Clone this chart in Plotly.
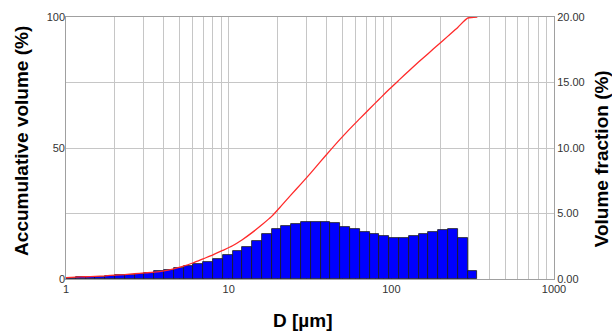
import plotly.graph_objects as go

# Bin edges (µm) of the size classes
bin_edges = [1.000, 1.149, 1.320, 1.516, 1.741, 2.000, 2.297, 2.639, 3.031, 3.482,
             4.000, 4.595, 5.278, 6.063, 6.964, 8.000, 9.190, 10.56, 12.13, 13.93,
             16.00, 18.38, 21.11, 24.25, 27.86, 32.00, 36.76, 42.22, 48.50, 55.72,
             64.00, 73.52, 84.45, 97.01, 111.4, 128.0, 147.0, 168.9, 194.0, 222.9,
             256.0, 294.1, 337.8]

# Volume fraction (%) per class
vol_fraction = [0.10, 0.13, 0.15, 0.18, 0.23, 0.28, 0.33, 0.41, 0.48, 0.59,
                0.69, 0.81, 0.97, 1.14, 1.30, 1.53, 1.81, 2.12, 2.47, 2.93,
                3.40, 3.80, 4.07, 4.23, 4.35, 4.38, 4.38, 4.24, 4.00, 3.84,
                3.56, 3.41, 3.26, 3.16, 3.16, 3.26, 3.44, 3.57, 3.75, 3.79,
                3.15, 0.58]

# Accumulative volume (%) at each bin edge
cum_volume = [0.5, 0.7, 0.85, 1.0, 1.2, 1.5, 1.7, 2.0, 2.3, 2.6,
              3.1, 3.9, 4.9, 6.2, 7.7, 9.2, 10.9, 12.7, 15.0, 17.7,
              20.7, 23.9, 28.0, 32.2, 36.3, 40.5, 44.9, 49.2, 53.4, 57.4,
              61.2, 65.0, 68.7, 72.4, 75.9, 79.4, 82.8, 86.1, 89.4, 92.7,
              96.0, 99.6, 100.0]

x_ticks = [1, 10, 100, 1000]
x_ticktext = ["1", "10", "100", "1000"]
left_ticks = [0, 50, 100]
right_ticks = [0, 5, 10, 15, 20]
right_ticktext = ["0.00", "5.00", "10.00", "15.00", "20.00"]

x_title = "D [µm]"
left_title = "Accumulative volume (%)"
right_title = "Volume fraction (%)"

centers = [(a + b) / 2 for a, b in zip(bin_edges[:-1], bin_edges[1:])]
widths = [b - a for a, b in zip(bin_edges[:-1], bin_edges[1:])]

font_family = "Liberation Sans, Arial, sans-serif"
grid_col = "#c6c6c6"
frame_col = "#a0a0a0"
title_font = dict(family=font_family, size=19, color="#000000")

fig = go.Figure()
fig.add_trace(go.Bar(
    x=centers, y=vol_fraction, width=widths,
    marker=dict(color="#0000ff", line=dict(color="#1a1a1a", width=0.8)),
    yaxis="y", showlegend=False,
))
fig.add_trace(go.Scatter(
    x=bin_edges, y=cum_volume, mode="lines",
    line=dict(color="#ff2a2a", width=1.3, shape="spline", smoothing=0.6),
    yaxis="y2", showlegend=False,
))

fig.update_layout(
    width=612, height=332,
    margin=dict(l=66, r=58, t=17, b=53),
    paper_bgcolor="white", plot_bgcolor="white",
    font=dict(family=font_family, size=11, color="#333333"),
    bargap=0,
    xaxis=dict(
        type="log", range=[0, 3], automargin=False,
        tickvals=x_ticks, ticktext=x_ticktext,
        showgrid=True, gridcolor=grid_col, gridwidth=1,
        minor=dict(showgrid=True, gridcolor=grid_col, gridwidth=1,
                   tickvals=[m * 10 ** d for d in range(3) for m in range(2, 10)]),
        showline=True, linecolor=frame_col, mirror=True,
        ticks="", zeroline=False,
        tickfont=dict(size=11, color="#333333"),
    ),
    yaxis=dict(
        side="right", range=[0, 20], automargin=False,
        tickvals=right_ticks, ticktext=right_ticktext,
        showgrid=True, gridcolor=grid_col, gridwidth=1,
        showline=True, linecolor=frame_col, mirror=True,
        ticks="", zeroline=False,
        tickfont=dict(size=11, color="#333333"),
    ),
    yaxis2=dict(
        side="left", overlaying="y", range=[0, 100], automargin=False,
        tickvals=left_ticks,
        showgrid=False, showline=False,
        ticks="", zeroline=False,
        tickfont=dict(size=11, color="#333333"),
    ),
    annotations=[
        dict(text="<b>%s</b>" % x_title, xref="paper", yref="paper", x=0.486, y=-0.1565,
             xanchor="center", yanchor="middle", showarrow=False, font=title_font),
        dict(text="<b>%s</b>" % left_title, xref="paper", yref="paper", x=-0.0902, y=0.527,
             xanchor="center", yanchor="middle", showarrow=False, textangle=-90, font=title_font),
        dict(text="<b>%s</b>" % right_title, xref="paper", yref="paper", x=1.098, y=0.46,
             xanchor="center", yanchor="middle", showarrow=False, textangle=-90, font=title_font),
    ],
)

fig.write_html(
    "out.html",
    config={"displayModeBar": False},
    post_script="document.body.style.margin='0';document.body.style.overflow='hidden';",
)
